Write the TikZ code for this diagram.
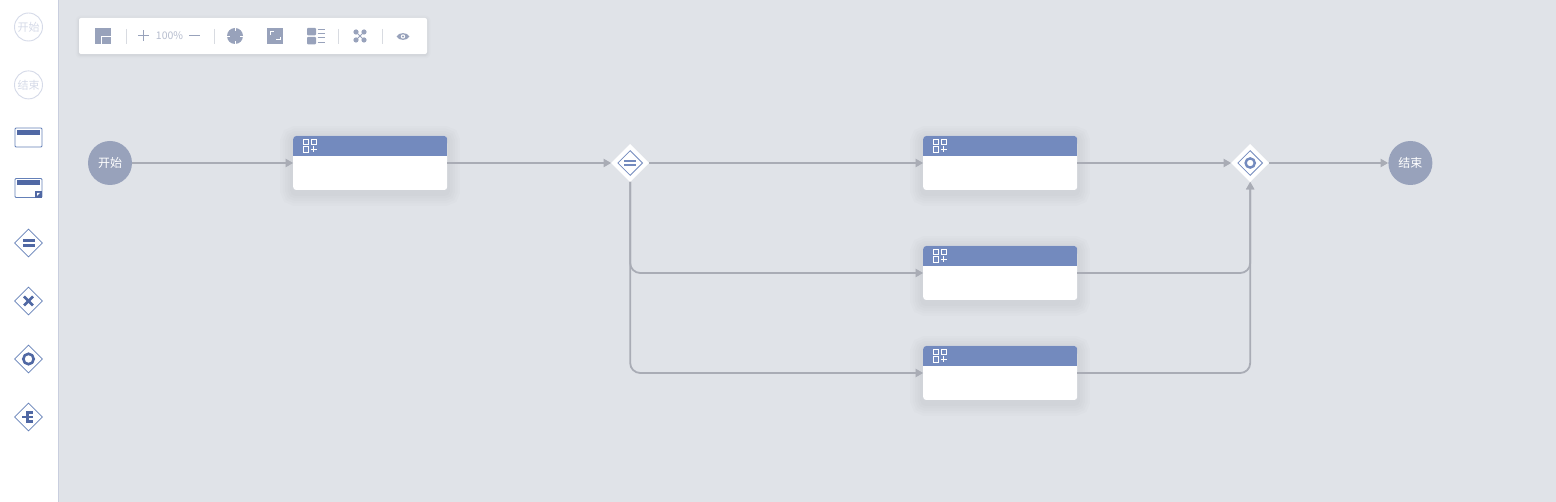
\documentclass[tikz,border=0pt]{standalone}
\usepackage{fontspec}
\setmainfont{Noto Sans CJK SC}
\usetikzlibrary{positioning,arrows.meta,shapes.geometric}

\definecolor{canvasgray}{HTML}{E0E3E8}
\definecolor{panelline}{HTML}{C9CEDE}
\definecolor{headblue}{HTML}{738ABE}
\definecolor{darkblue}{HTML}{5068A4}
\definecolor{paletteline}{HTML}{6480B8}
\definecolor{slategray}{HTML}{98A2BB}
\definecolor{flowgray}{HTML}{A9ACB5}
\definecolor{palegray}{HTML}{D5DAE8}
\definecolor{dividergray}{HTML}{D8DBE1}

\tikzset{
	flow/.style={draw=flowgray, line width=1.8pt, rounded corners=10pt, -{Triangle[length=7.5pt,width=8pt]}},
	eventnode/.style={circle, fill=slategray, text=white, minimum size=44pt, inner sep=0pt, font=\fontsize{12}{14}\selectfont},
	softshadow/.style={
		preaction={draw=black, draw opacity=.010, line width=26pt, transform canvas={yshift=-3pt}},
		preaction={draw=black, draw opacity=.010, line width=21pt, transform canvas={yshift=-3pt}},
		preaction={draw=black, draw opacity=.010, line width=16pt, transform canvas={yshift=-3pt}},
		preaction={draw=black, draw opacity=.010, line width=11pt, transform canvas={yshift=-3pt}},
		preaction={draw=black, draw opacity=.012, line width=6pt, transform canvas={yshift=-3pt}}},
	tasknode/.style={rectangle, softshadow, fill=white, rounded corners=3pt, minimum width=154pt, minimum height=54pt, inner sep=0pt, outer sep=0pt},
	gatenode/.style={diamond, fill=white, aspect=1, minimum width=38pt, minimum height=38pt, inner sep=0pt, outer sep=0pt},
	gateinner/.style={diamond, draw=headblue, line width=0.8pt, aspect=1, minimum width=25pt, minimum height=25pt, inner sep=0pt},
	palettecircle/.style={circle, draw=palegray, line width=0.9pt, text=palegray, minimum size=28pt, inner sep=0pt, font=\fontsize{11}{13}\selectfont},
	palettetask/.style={rectangle, draw=paletteline, line width=0.9pt, fill=white, rounded corners=1pt, minimum width=27pt, minimum height=19pt, inner sep=0pt},
	palettegate/.style={diamond, draw=paletteline, line width=0.8pt, aspect=1, minimum width=28pt, minimum height=28pt, inner sep=0pt},
	toolbarbox/.style={rectangle, fill=white, rounded corners=2pt, minimum width=348pt, minimum height=36pt, inner sep=0pt,
		preaction={draw=black, draw opacity=.012, line width=7pt, transform canvas={yshift=-1pt}},
		preaction={draw=black, draw opacity=.016, line width=4pt, transform canvas={yshift=-1pt}},
		preaction={draw=black, draw opacity=.02, line width=2pt, transform canvas={yshift=-1pt}}},
	toolicon/.style={fill=slategray},
	tooldivider/.style={draw=dividergray, line width=1pt},
	headicon/.style={draw=white, line width=1pt},
}

% blue header and icon of a task box
\newcommand{\taskhead}[1]{
	\begin{scope}[shift={(#1.north west)}]
		\fill [headblue, rounded corners=3pt] (0,10) -- (0,0) -- (154,0) -- (154,10) -- cycle;
		\fill [headblue] (0,7) rectangle (154,20);
		\draw [headicon] (10,3.5) rectangle (15.5,9);
		\draw [headicon] (18,3.5) rectangle (23.5,9);
		\draw [headicon] (10,11) rectangle (15.5,16.5);
		\draw [headicon] (17.5,13.5) -- (23.5,13.5);
		\draw [headicon] (20.5,10.5) -- (20.5,16.5);
	\end{scope}
}

\begin{document}
\begin{tikzpicture}[x=1pt, y=-1pt]
	\useasboundingbox (0,0) rectangle (1556,502);
	\fill [canvasgray] (0,0) rectangle (1556,502);

	% side palette
	\fill [white] (0,0) rectangle (58,502);
	\draw [panelline, line width=1pt] (58.5,0) -- (58.5,502);
	\node [palettecircle] (palstart) at (28.5,27) {开始};
	\node [palettecircle, below=29pt of palstart] (palend) {结束};
	\node [palettetask] (paltask) at (28.5,137.5) {};
	\fill [darkblue] (17,130) rectangle (40,135);
	\node [palettetask] (palsub) at (28.5,188) {};
	\fill [darkblue] (17,180) rectangle (40,185.5);
	\fill [darkblue] (35,191) rectangle (42,198);
	\fill [white] (37,193) -- (40,193) -- (37,196) -- cycle;
	\node [palettegate] (palpar) at (28.5,243) {};
	\fill [darkblue] (23,239) rectangle (34.5,241.7);
	\fill [darkblue] (23,244) rectangle (34.5,246.7);
	\node [palettegate] (palxor) at (28.5,301) {};
	\draw [darkblue, line width=2.6pt] (24,296.5) -- (33,305.5);
	\draw [darkblue, line width=2.6pt] (33,296.5) -- (24,305.5);
	\node [palettegate] (palor) at (28.5,359) {};
	\draw [darkblue, line width=2.6pt] (28.5,359) circle (5.2);
	\node [palettegate] (palevt) at (28.5,417) {};
	\fill [darkblue] (25.5,411.5) rectangle (33,414);
	\fill [darkblue] (25.5,420.5) rectangle (33,423);
	\fill [darkblue] (22,416) rectangle (32.5,418.5);
	\fill [darkblue] (25.5,411.5) rectangle (29,423);

	% toolbar
	\node [toolbarbox] (toolbar) at (253,36) {};
	\fill [toolicon] (95,28) rectangle (111,44);
	\draw [white, line width=0.9pt] (111,36.5) -- (101.5,36.5) -- (101.5,44);
	\draw [tooldivider] (126.5,29) -- (126.5,44);
	\draw [slategray, line width=1pt] (138,36) -- (149,36);
	\draw [slategray, line width=1pt] (143.5,30.5) -- (143.5,41.5);
	\node [text=slategray!70, font=\fontsize{10.5}{12}\selectfont, inner sep=0pt] (zoomlabel) at (169.5,36) {100\%};
	\draw [slategray, line width=1pt] (189,36) -- (200,36);
	\draw [tooldivider] (214.5,29) -- (214.5,44);
	\fill [toolicon] (235,36) circle (8);
	\draw [white, line width=0.8pt] (235,28) -- (235,31);
	\draw [white, line width=0.8pt] (235,41) -- (235,44);
	\draw [white, line width=0.8pt] (227,36) -- (230,36);
	\draw [white, line width=0.8pt] (240,36) -- (243,36);
	\fill [toolicon] (267,28) rectangle (283,44);
	\draw [white, line width=1pt] (270,35) -- (270,32) -- (274,32);
	\draw [white, line width=1pt] (280,37) -- (280,40) -- (276,40);
	\fill [toolicon, rounded corners=1pt] (307,28) rectangle (316,35.5);
	\fill [toolicon, rounded corners=1pt] (307,37) rectangle (316,44.5);
	\draw [slategray, line width=1pt] (317.5,29.5) -- (325,29.5);
	\draw [slategray, line width=1pt] (317.5,33.5) -- (325,33.5);
	\draw [slategray, line width=1pt] (317.5,38) -- (325,38);
	\draw [slategray, line width=1pt] (317.5,42.5) -- (325,42.5);
	\draw [tooldivider] (338.5,29) -- (338.5,44);
	\draw [slategray, line width=1pt] (356,32) -- (364,40);
	\draw [slategray, line width=1pt] (364,32) -- (356,40);
	\fill [toolicon] (356,32) circle (2.6);
	\fill [toolicon] (364,32) circle (2.6);
	\fill [toolicon] (356,40) circle (2.6);
	\fill [toolicon] (364,40) circle (2.6);
	\draw [tooldivider] (382.5,29) -- (382.5,44);
	\fill [toolicon] (396.5,36.5) .. controls (399,32) and (407,32) .. (409.5,36.5) .. controls (407,41) and (399,41) .. (396.5,36.5);
	\fill [white] (403,36.5) circle (2.2);
	\fill [toolicon] (403,36.5) circle (1.1);

	% flow nodes
	\node [eventnode] (start) at (110,163) {开始};
	\node [tasknode, right=161pt of start] (taskA) {};
	\node [gatenode, right=164pt of taskA] (split) {};
	\node [tasknode, right=274pt of split] (taskB) {};
	\node [tasknode, below=56pt of taskB] (taskC) {};
	\node [tasknode, below=46pt of taskC] (taskD) {};
	\node [gatenode, right=154pt of taskB] (merge) {};
	\node [eventnode, right=119pt of merge] (end) {结束};

	\taskhead{taskA}
	\taskhead{taskB}
	\taskhead{taskC}
	\taskhead{taskD}

	\node [gateinner] (splitin) at (split) {};
	\fill [headblue] (624,160) rectangle (636,162);
	\fill [headblue] (624,164.5) rectangle (636,166.5);
	\node [gateinner] (mergein) at (merge) {};
	\draw [headblue, line width=2.4pt] (merge) circle (4.6);

	\draw [flow] (start) to (taskA);
	\draw [flow] (taskA) to (split);
	\draw [flow] (split) to (taskB);
	\draw [flow] (split.south) |- (taskC.west);
	\draw [flow] (split.south) |- (taskD.west);
	\draw [flow] (taskB) to (merge);
	\draw [flow] (taskC.east) -| (merge.south);
	\draw [flow] (taskD.east) -| (merge.south);
	\draw [flow] (merge) to (end);
\end{tikzpicture}
\end{document}
